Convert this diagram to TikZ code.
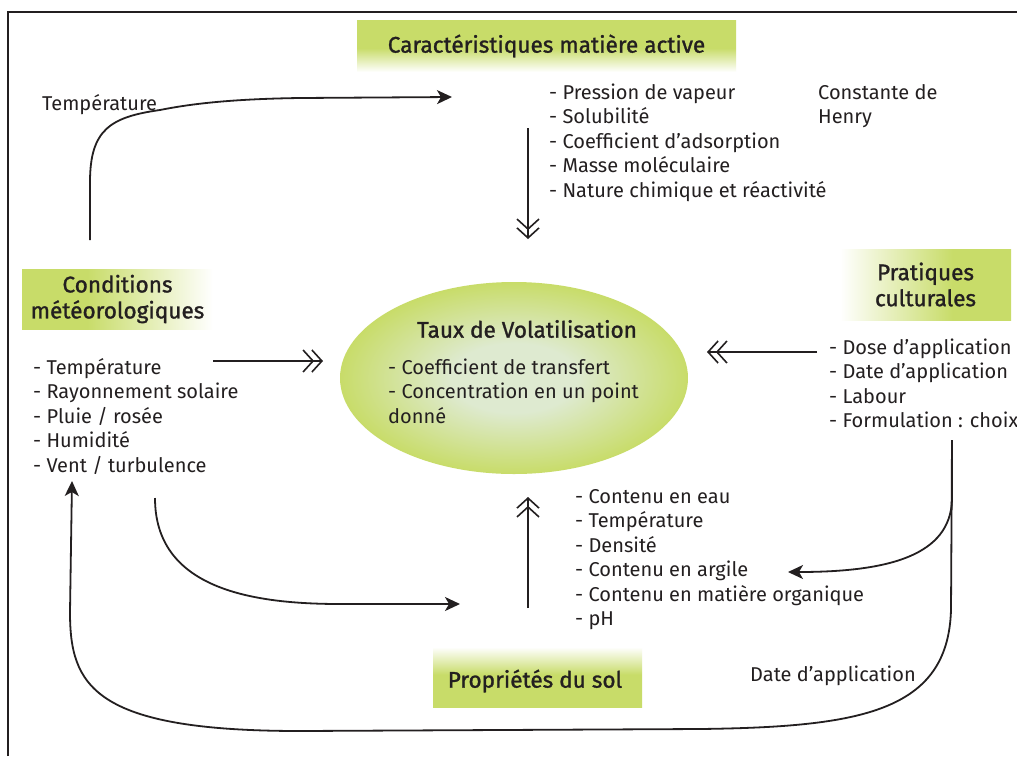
\documentclass[tikz,border=0pt]{standalone}
\usepackage{fontspec}
\setmainfont{Fira Sans}
\newfontfamily\hdrfont[FakeBold=1.2]{Fira Sans}
\usetikzlibrary{arrows.meta,calc,shapes.geometric}
\definecolor{lime}{RGB}{200,220,105}
\definecolor{pale}{RGB}{222,234,208}
\definecolor{ink}{RGB}{35,31,32}
\pgfdeclareverticalshading{fadedown}{100bp}{color(0bp)=(white); color(25bp)=(white); color(48bp)=(lime); color(100bp)=(lime)}
\pgfdeclarehorizontalshading{faderight}{100bp}{color(0bp)=(lime); color(42bp)=(lime); color(75bp)=(white); color(100bp)=(white)}
\pgfdeclareradialshading{glow}{\pgfpoint{0bp}{0bp}}{color(0bp)=(pale); color(9bp)=(pale); color(25bp)=(lime); color(50bp)=(lime)}
\tikzset{
  txt/.style={anchor=base west, align=left, inner sep=0pt, text=ink, font=\fontsize{20}{24.5}\selectfont},
  hdr/.style={inner sep=0pt, align=center, text=ink, font=\hdrfont\fontsize{22.6}{26}\selectfont},
  conn/.style={draw=ink, line width=1.8pt},
  dbl/.style={conn, -{Straight Barb[length=10pt,width=22pt,line width=1.6pt,sep=-3pt] Straight Barb[length=10pt,width=22pt,line width=1.6pt]}},
  sgl/.style={conn, -{Stealth[length=15pt,width=14pt,inset=4pt]}},
}
\begin{document}
\begin{tikzpicture}[x=1pt,y=-1pt]
\useasboundingbox (0,0) rectangle (1017,756);
\fill[white] (0,0) rectangle (1017,756);
% frame
\draw[ink, line width=1.6pt] (8,756) -- (8,12) -- (1017,12);

% header boxes
\node[hdr, minimum width=379pt, minimum height=52pt, shading=fadedown] (car) at (546.5,46) {Caractéristiques matière active};
\node[hdr, minimum width=191pt, minimum height=60pt, shading=faderight] (cond) at (117.5,299) {Conditions\\météorologiques};
\node[hdr, minimum width=171pt, minimum height=71pt, shading=faderight, shading angle=180] (prat) at (925.5,284.5) {Pratiques\\culturales};
\node[minimum width=209pt, minimum height=60pt, inner sep=0pt, shading=fadedown, shading angle=180] (sol) at (537.5,677) {};
\node[hdr, anchor=center] (soltxt) at (535,681) {Propriétés du sol};

% central ellipse
\node[ellipse, minimum width=348pt, minimum height=192pt, inner sep=0pt, shading=glow] (taux) at (514,378) {};
\node[hdr, anchor=center] (tauxtitle) at (527,329) {Taux de Volatilisation};
\node[txt] (tauxlist) at (388,423) {- Coefficient de transfert\\- Concentration en un point\\donné};

% lists (anchor = baseline of the last line)
\node[txt] (carlist) at (549,197) {- Pression de vapeur\\- Solubilité\\- Coefficient d’adsorption\\- Masse moléculaire\\- Nature chimique et réactivité};
\node[txt] (henry) at (818,123.5) {Constante de\\Henry};
\node[txt] (templbl) at (42,110) {Température};
\node[txt] (condlist) at (33,472) {- Température\\- Rayonnement solaire\\- Pluie / rosée\\- Humidité\\- Vent / turbulence};
\node[txt] (pratlist) at (829,427.5) {- Dose d’application\\- Date d’application\\- Labour\\- Formulation : choix};
\node[txt] (sollist) at (575,625.5) {- Contenu en eau\\- Température\\- Densité\\- Contenu en argile\\- Contenu en matière organique\\- pH};
\node[txt] (datelbl) at (750,681) {Date d’application};

% connector end points
\coordinate (tS) at (90,240);
\coordinate (tE) at (452,97);
\coordinate (cS) at (528,128);
\coordinate (cE) at (528,239);
\coordinate (mS) at (213,361);
\coordinate (mE) at (323,361);
\coordinate (pS) at (817,352);
\coordinate (pE) at (707,352);
\coordinate (sS) at (528,608);
\coordinate (sE) at (528,497);
\coordinate (ms) at (155,498);
\coordinate (me) at (460,604);
\coordinate (ps) at (952,440);
\coordinate (pe) at (788,572);
\coordinate (pc) at (72,481);

% connectors
\draw[sgl] (tS) -- (90,182) .. controls (90,130) and (110,117) .. (160,110) .. controls (190,104) and (230,99) .. (300,98) -- (tE);
\draw[dbl] (cS) -- (cE);
\draw[dbl] (mS) -- (mE);
\draw[dbl] (pS) -- (pE);
\draw[dbl] (sS) -- (sE);
\draw[sgl] (ms) .. controls (155,588) and (250,604) .. (340,604) -- (me);
\draw[sgl] (ps) -- (952,500) .. controls (950,555) and (890,572) .. (pe);
\draw[sgl] (ps) -- (951,610) .. controls (948,712) and (860,727) .. (700,729) -- (300,731) .. controls (92,731) and (70,685) .. (70,612) -- (pc);
\end{tikzpicture}
\end{document}
